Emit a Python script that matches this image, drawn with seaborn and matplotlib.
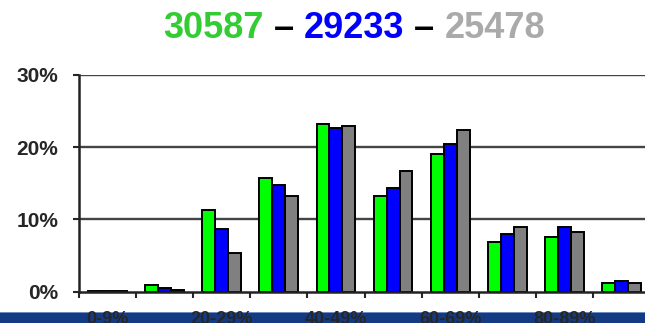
import numpy as np
import pandas as pd
import matplotlib
matplotlib.use("Agg")
import matplotlib.pyplot as plt
import seaborn as sns
from matplotlib.patches import Rectangle

# data
ranges = ["0-9%", "10-19%", "20-29%", "30-39%", "40-49%",
          "50-59%", "60-69%", "70-79%", "80-89%", "90-100%"]
series = ["30587", "29233", "25478"]
green_vals = [0.1, 0.9, 11.3, 15.7, 23.2, 13.2, 19.1, 6.9, 7.5, 1.2]
blue_vals = [0.05, 0.5, 8.6, 14.8, 22.7, 14.3, 20.5, 7.9, 9.0, 1.5]
gray_vals = [0.05, 0.2, 5.4, 13.2, 23.0, 16.7, 22.4, 9.0, 8.3, 1.2]
shown_labels = ["0-9%", "20-29%", "40-49%", "60-69%", "80-89%"]

bar_colors = ["#00FF00", "#0000FF", "#808080"]
title_colors = ["#33CC33", "#0000FF", "#AAAAAA"]

df = pd.DataFrame({
    "range": ranges * 3,
    "pct": green_vals + blue_vals + gray_vals,
    "series": [s for s in series for _ in ranges],
})

sns.set_style("white")
plt.rcParams["font.family"] = ["Liberation Sans", "DejaVu Sans"]
plt.rcParams["font.weight"] = "bold"

fig = plt.figure(figsize=(6.45, 3.23), dpi=100)
ax = fig.add_axes([79 / 645, 31.5 / 323, 571 / 645, 216.5 / 323])
ax.set_zorder(2)

sns.barplot(data=df, x="range", y="pct", hue="series", order=ranges,
            hue_order=series, palette=bar_colors, edgecolor="black",
            linewidth=1.4, width=0.68, saturation=1, legend=False, ax=ax,
            zorder=3)

ax.set_ylim(0, 30)
ax.set_xlim(-0.5, len(ranges) - 0.5)
ax.set_yticks([0, 10, 20, 30])
ax.set_yticklabels(["0%", "10%", "20%", "30%"], fontsize=15, fontweight="bold")
ax.tick_params(axis="y", length=4, width=1.5, pad=11, left=True)

# labels at centers of every other category, ticks at boundaries
ax.set_xticks([ranges.index(l) for l in shown_labels])
ax.set_xticklabels(shown_labels, fontsize=13, fontweight="bold")
ax.set_xticks(np.arange(-0.5, len(ranges), 1), minor=True)
ax.tick_params(axis="x", which="major", length=0, pad=14)
ax.tick_params(axis="x", which="minor", length=4, width=1.5, bottom=True)
ax.set_xlabel("")
ax.set_ylabel("")

for y in [10, 20, 30]:
    ax.axhline(y, color="#444444", lw=1.7, zorder=1)
sns.despine(ax=ax, top=True, right=True)
for s in ["left", "bottom"]:
    ax.spines[s].set_color("#222222")
    ax.spines[s].set_linewidth(1.8)
    ax.spines[s].set_zorder(4)

# blue band at the bottom
fig.patches.append(Rectangle((0, 0), 1, 11 / 323, transform=fig.transFigure,
                             facecolor="#143A84", edgecolor="none", zorder=0))
fig.patches.append(Rectangle((0, 10 / 323), 1, 1.5 / 323, transform=fig.transFigure,
                             facecolor="#6E8CC0", edgecolor="none", zorder=0))

# multicolour title
pieces = [(series[0], title_colors[0]), (" \u2013 ", "black"),
          (series[1], title_colors[1]), (" \u2013 ", "black"),
          (series[2], title_colors[2])]
renderer = fig.canvas.get_renderer()
texts = []
for txt, col in pieces:
    t = fig.text(0, 1 - 38 / 323, txt, color=col, fontsize=26,
                 fontweight="bold", va="baseline", ha="left", zorder=3)
    texts.append(t)
widths = [t.get_window_extent(renderer).width for t in texts]
x = 354 - sum(widths) / 2
for t, w in zip(texts, widths):
    t.set_x(x / 645)
    x += w

fig.savefig("out.png", dpi=100)
